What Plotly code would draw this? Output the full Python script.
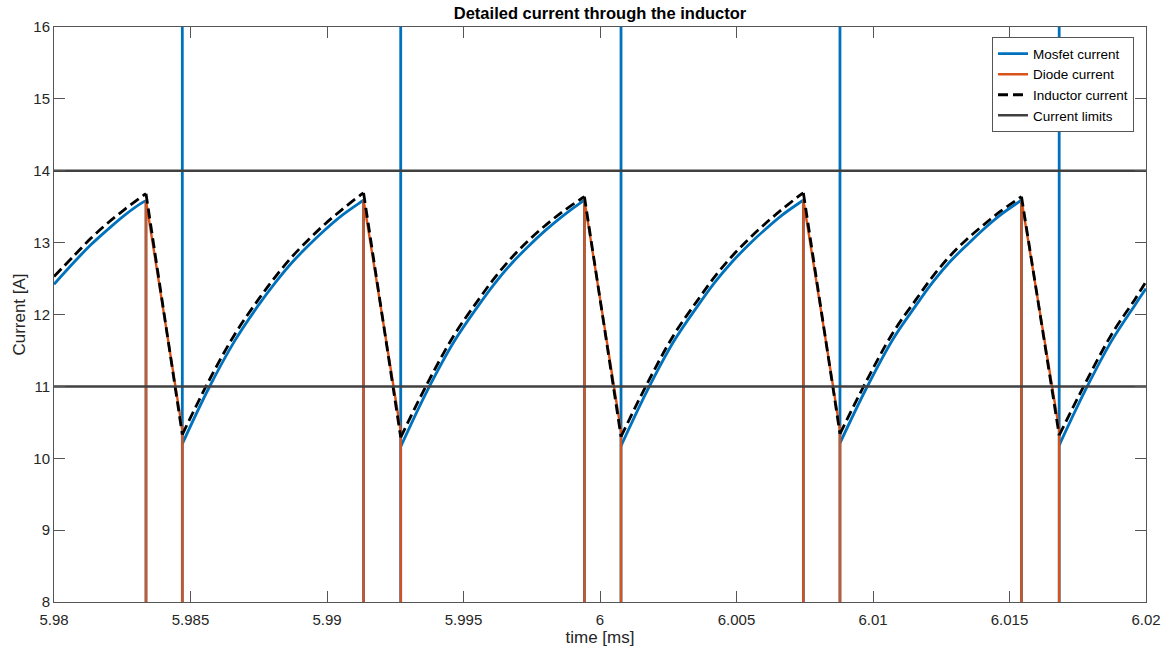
import plotly.graph_objects as go

# Switching instants [ms]
t_off = [5.98337, 5.99134, 5.99943, 6.00745, 6.01544]   # MOSFET turns off, diode takes over
t_on = [5.98470, 5.99270, 6.00077, 6.00879, 6.01682]    # MOSFET turns back on

# MOSFET conduction intervals (time [ms], current [A]); one list per interval
mos_seg_t = [
    [5.98000, 5.98074, 5.98135, 5.98196, 5.98258, 5.98325, 5.98337],
    [5.98470, 5.98565, 5.98663, 5.98749, 5.98810, 5.98871, 5.98932, 5.98993, 5.99055, 5.99122, 5.99134],
    [5.99270, 5.99366, 5.99465, 5.99552, 5.99614, 5.99676, 5.99738, 5.99800, 5.99863, 5.99931, 5.99943],
    [6.00077, 6.00173, 6.00271, 6.00358, 6.00419, 6.00481, 6.00542, 6.00604, 6.00666, 6.00733, 6.00745],
    [6.00879, 6.00974, 6.01072, 6.01158, 6.01219, 6.01281, 6.01342, 6.01403, 6.01465, 6.01532, 6.01544],
    [6.01682, 6.01777, 6.01875, 6.01961, 6.02000],
]
mos_seg_i = [
    [12.42, 12.73, 12.97, 13.18, 13.38, 13.56, 13.58],
    [10.20, 10.96, 11.64, 12.13, 12.44, 12.72, 12.96, 13.18, 13.38, 13.56, 13.59],
    [10.16, 10.93, 11.62, 12.11, 12.43, 12.71, 12.95, 13.17, 13.37, 13.56, 13.59],
    [10.17, 10.94, 11.63, 12.12, 12.44, 12.72, 12.96, 13.18, 13.38, 13.56, 13.59],
    [10.21, 10.96, 11.65, 12.13, 12.45, 12.73, 12.96, 13.18, 13.38, 13.56, 13.59],
    [10.18, 10.94, 11.64, 12.14, 12.36],
]
mos_spike = 40.0   # turn-on current spike, far above the visible range

# Inductor current over the same conduction intervals
ind_seg_i = [
    [12.53, 12.82, 13.06, 13.27, 13.46, 13.65, 13.68],
    [10.33, 11.06, 11.73, 12.21, 12.52, 12.80, 13.04, 13.26, 13.46, 13.66, 13.69],
    [10.29, 11.03, 11.71, 12.19, 12.51, 12.79, 13.03, 13.24, 13.43, 13.61, 13.64],
    [10.30, 11.04, 11.72, 12.20, 12.52, 12.80, 13.04, 13.26, 13.46, 13.66, 13.69],
    [10.34, 11.06, 11.74, 12.21, 12.53, 12.81, 13.04, 13.24, 13.43, 13.61, 13.64],
    [10.32, 11.04, 11.73, 12.22, 12.46],
]

# Diode current at the start and end of each freewheeling interval
diode_start = [13.58, 13.59, 13.59, 13.59, 13.59]
diode_end = [10.40, 10.38, 10.38, 10.40, 10.40]

# Hysteresis band
limits = [14, 11]

x_ticks = [5.98, 5.985, 5.99, 5.995, 6.0, 6.005, 6.01, 6.015, 6.02]
x_tick_text = ["5.98", "5.985", "5.99", "5.995", "6", "6.005", "6.01", "6.015", "6.02"]
y_ticks = [8, 9, 10, 11, 12, 13, 14, 15, 16]


def join_segments(xs_list, ys_list):
    """Concatenate segments, separated by gaps."""
    xs, ys = [], []
    for a, b in zip(xs_list, ys_list):
        xs += list(a) + [None]
        ys += list(b) + [None]
    return xs, ys


# MOSFET: smooth conduction curves
mos_x, mos_y = join_segments(mos_seg_t, mos_seg_i)

# MOSFET: vertical edges (drop to zero at turn-off, spike at turn-on)
mv_x, mv_y = [], []
for k in range(len(t_off)):
    mv_x += [t_off[k], t_off[k], None]
    mv_y += [mos_seg_i[k][-1], 0.0, None]
    mv_x += [t_on[k], t_on[k], t_on[k], None]
    mv_y += [0.0, mos_spike, mos_seg_i[k + 1][0], None]

# Diode: pulses during the freewheeling intervals
dx, dy = [], []
for a, b, s, e in zip(t_off, t_on, diode_start, diode_end):
    dx += [a, a, b, b, None]
    dy += [0.0, s, e, 0.0, None]

# Inductor: rising with the MOSFET, falling with the diode
ind_x, ind_y = join_segments(mos_seg_t, ind_seg_i)
if_x, if_y = [], []
for k in range(len(t_off)):
    if_x += [t_off[k], t_on[k], None]
    if_y += [ind_seg_i[k][-1], ind_seg_i[k + 1][0], None]

# Horizontal limit lines across the full time span
hx, hy = [], []
for v in limits:
    hx += [x_ticks[0], x_ticks[-1], None]
    hy += [v, v, None]

BLUE = "#0072BD"
ORANGE = "#D95319"
FONT = "Liberation Sans, Arial, sans-serif"
DASH = "10px,5px"

fig = go.Figure()
fig.add_trace(go.Scatter(x=mos_x, y=mos_y, mode="lines", name="Mosfet current",
                         legendgroup="mos",
                         line=dict(color=BLUE, width=2.8, shape="spline", smoothing=1.0)))
fig.add_trace(go.Scatter(x=mv_x, y=mv_y, mode="lines", name="Mosfet current",
                         legendgroup="mos", showlegend=False,
                         line=dict(color=BLUE, width=2.8)))
fig.add_trace(go.Scatter(x=dx, y=dy, mode="lines", name="Diode current",
                         line=dict(color=ORANGE, width=2.4)))
fig.add_trace(go.Scatter(x=ind_x, y=ind_y, mode="lines", name="Inductor current",
                         legendgroup="ind",
                         line=dict(color="black", width=2.8, dash=DASH,
                                   shape="spline", smoothing=1.0)))
fig.add_trace(go.Scatter(x=if_x, y=if_y, mode="lines", name="Inductor current",
                         legendgroup="ind", showlegend=False,
                         line=dict(color="black", width=2.8, dash=DASH)))
fig.add_trace(go.Scatter(x=hx, y=hy, mode="lines", name="Current limits",
                         line=dict(color="#404040", width=2.5)))

axis_common = dict(
    showline=True, linecolor="#555555", linewidth=1, mirror="ticks",
    ticks="inside", ticklen=11, tickcolor="#555555", tickwidth=1,
    showgrid=False, zeroline=False, automargin=False,
    tickfont=dict(family=FONT, size=15, color="#262626"),
)

fig.update_layout(
    width=1167, height=653,
    margin=dict(l=54, r=21, t=27, b=51),
    paper_bgcolor="white", plot_bgcolor="white",
    font=dict(family=FONT, color="#262626"),
    title=dict(text="<b>Detailed current through the inductor</b>",
               x=0.5, xref="paper", y=1 - 13 / 653, yref="container",
               xanchor="center", yanchor="middle",
               font=dict(family=FONT, size=16.5, color="black")),
    xaxis=dict(range=[5.98, 6.02], tickvals=x_ticks, ticktext=x_tick_text,
               ticklabelstandoff=4,
               title=dict(text="time [ms]", standoff=4,
                          font=dict(family=FONT, size=17, color="#262626")),
               **axis_common),
    yaxis=dict(range=[8, 16], tickvals=y_ticks,
               title=dict(text="Current [A]", standoff=3,
                          font=dict(family=FONT, size=17, color="#262626")),
               **axis_common),
    legend=dict(x=0.989, y=0.982, xanchor="right", yanchor="top",
                bgcolor="white", bordercolor="#555555", borderwidth=1,
                font=dict(family=FONT, size=13.5, color="black"),
                tracegroupgap=0),
    showlegend=True,
)

fig.write_html("out.html")
